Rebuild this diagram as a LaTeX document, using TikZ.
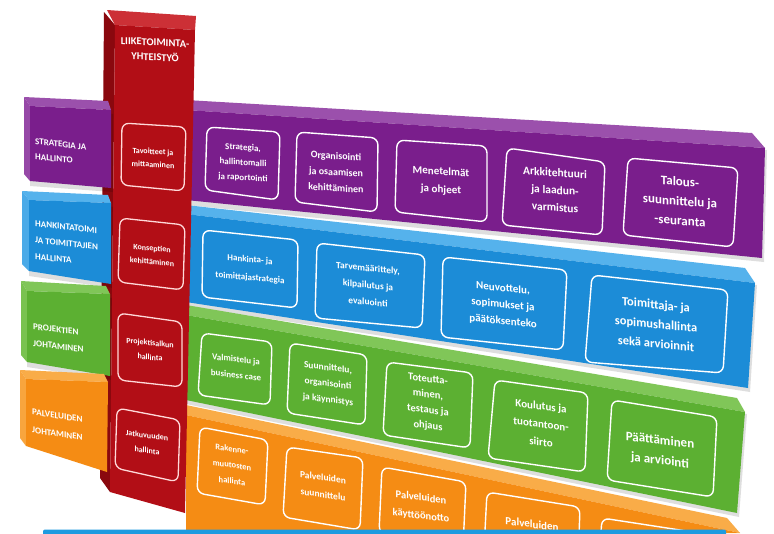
\documentclass[tikz,border=0pt]{standalone}
\usepackage{fontspec}
\setmainfont{Carlito}
\definecolor{pF}{RGB}{122,30,140}
\definecolor{pT}{RGB}{155,80,172}
\definecolor{bF}{RGB}{28,140,215}
\definecolor{bT}{RGB}{85,178,236}
\definecolor{gF}{RGB}{92,176,50}
\definecolor{gT}{RGB}{128,198,88}
\definecolor{oF}{RGB}{245,140,20}
\definecolor{oT}{RGB}{249,172,72}
\definecolor{rF}{RGB}{178,14,22}
\definecolor{rT}{RGB}{204,48,54}
\definecolor{rS}{RGB}{138,8,14}
\definecolor{barB}{RGB}{30,155,224}
\begin{document}
\begin{tikzpicture}[x=1pt,y=-1pt,
  ibox/.style={draw=white, line width=1.4pt, rounded corners=7pt},
  rbox/.style={draw=red!15!white, line width=1.3pt, rounded corners=7pt},
  txt/.style 2 args={text=white, align=center, inner sep=0pt, font=\fontsize{#1}{#2}\selectfont\bfseries},
  ltxt/.style={text=white, align=left, inner sep=0pt, anchor=west, font=\fontsize{9}{15}\selectfont\bfseries},
  shd/.style={fill=black, opacity=0.13}
  ]
\useasboundingbox (0,0) rectangle (774,533);
\clip (0,0) rectangle (774,533);
\fill[white] (0,0) rectangle (774,533);

% ---------- band right parts ----------
% purple
\fill[shd] (186,112) -- (767,150) -- (764,262) -- (186,205) -- cycle;
\fill[pT] (186,100) -- (752,133) -- (765,148) -- (186,110) -- cycle;
\fill[pF] (186,110) -- (765,148) -- (762,258) -- (186,200) -- cycle;
% blue
\fill[shd] (186,216) -- (757,285) -- (750,392) -- (186,306) -- cycle;
\fill[bT] (186,205) -- (745,268) -- (755,283) -- (186,214) -- cycle;
\fill[bF] (186,214) -- (755,283) -- (748,388) -- (186,302) -- cycle;
% green
\fill[shd] (186,317) -- (747,414) -- (739,517) -- (186,404) -- cycle;
\fill[gT] (186,305) -- (737,398) -- (745,412) -- (186,315) -- cycle;
\fill[gF] (186,315) -- (745,412) -- (737,513) -- (186,400) -- cycle;
% orange
\fill[oT] (186,405) -- (727,518) -- (740,533) -- (186,415) -- cycle;
\fill[oF] (186,415) -- (740,533) -- (186,533) -- cycle;

% ---------- purple boxes ----------
\draw[ibox] (207,127) -- (280,132) -- (278,200) -- (205,190) -- cycle;
\draw[ibox] (297,132) -- (378,138) -- (377,212) -- (295,202) -- cycle;
\draw[ibox] (397,140) -- (487,146) -- (487,222) -- (395,212) -- cycle;
\draw[ibox] (507,148) -- (605,162) -- (602,235) -- (502,225) -- cycle;
\draw[ibox] (628,158) -- (738,168) -- (733,247) -- (623,235) -- cycle;
\node[txt={9}{15}, yslant=-0.06] (p1) at (243,163) {Strategia,\\hallintomalli\\ja raportointi};
\node[txt={10}{16}, yslant=-0.06] (p2) at (336,172) {Organisointi\\ja osaamisen\\kehittäminen};
\node[txt={11}{18}, yslant=-0.06] (p3) at (441,181) {Menetelmät\\ja ohjeet};
\node[txt={11.5}{17.5}, yslant=-0.07] (p4) at (555,190) {Arkkitehtuuri\\ja laadun-\\varmistus};
\node[txt={13}{19.5}, yslant=-0.08] (p5) at (680,201) {Talous-\\suunnittelu ja\\-seuranta};

% ---------- blue boxes ----------
\draw[ibox] (203,230) -- (298,240) -- (297,308) -- (202,297) -- cycle;
\draw[ibox] (317,243) -- (425,255) -- (422,328) -- (315,318) -- cycle;
\draw[ibox] (443,257) -- (567,270) -- (563,350) -- (441,337) -- cycle;
\draw[ibox] (592,275) -- (728,290) -- (723,373) -- (585,362) -- cycle;
\node[txt={9}{18}, yslant=-0.09] (b1) at (250,269) {Hankinta- ja\\toimittajastrategia};
\node[txt={9.5}{17}, yslant=-0.1] (b2) at (368,285) {Tarvemäärittely,\\kilpailutus ja\\evaluointi};
\node[txt={11}{16.5}, yslant=-0.1] (b3) at (503,305) {Neuvottelu,\\sopimukset ja\\päätöksenteko};
\node[txt={12.5}{19.5}, yslant=-0.1] (b4) at (656,324) {Toimittaja- ja\\sopimushallinta\\sekä arvioinnit};

% ---------- green boxes ----------
\draw[ibox] (202,333) -- (272,342) -- (270,405) -- (198,395) -- cycle;
\draw[ibox] (290,343) -- (367,355) -- (365,425) -- (287,413) -- cycle;
\draw[ibox] (387,362) -- (473,373) -- (470,448) -- (383,435) -- cycle;
\draw[ibox] (495,380) -- (588,393) -- (585,472) -- (488,458) -- cycle;
\draw[ibox] (612,400) -- (717,417) -- (713,497) -- (607,480) -- cycle;
\node[txt={9}{16}, yslant=-0.11] (g1) at (236,367) {Valmistelu ja\\business case};
\node[txt={9.5}{16}, yslant=-0.12] (g2) at (328,384) {Suunnittelu,\\organisointi\\ja käynnistys};
\node[txt={10.5}{15.5}, yslant=-0.12] (g3) at (428,403) {Toteutta-\\minen,\\testaus ja\\ohjaus};
\node[txt={11}{18}, yslant=-0.12] (g4) at (541,424) {Koulutus ja\\tuotantoon-\\siirto};
\node[txt={13}{20}, yslant=-0.12] (g5) at (660,451) {Päättäminen\\ja arviointi};

% ---------- orange boxes ----------
\draw[ibox] (200,427) -- (268,440) -- (265,505) -- (197,493) -- cycle;
\draw[ibox] (287,447) -- (363,458) -- (360,530) -- (283,517) -- cycle;
\draw[ibox] (382,467) -- (466,482) -- (463,548) -- (379,533) -- cycle;
\draw[ibox] (487,492) -- (580,507) -- (578,565) -- (484,550) -- cycle;
\draw[ibox] (602,518) -- (693,532) -- (690,575) -- (599,560) -- cycle;
\node[txt={8.5}{16}, yslant=-0.14] (o1) at (232,465) {Rakenne-\\muutosten\\hallinta};
\node[txt={9.5}{17}, yslant=-0.14] (o2) at (323,486) {Palveluiden\\suunnittelu};
\node[txt={10.5}{18}, yslant=-0.13] (o3) at (421,507) {Palveluiden\\käyttöönotto};
\node[txt={11}{17}, yslant=-0.13, anchor=north] (o4) at (532,520) {Palveluiden};

% ---------- column side face ----------
\fill[rS] (104,12) -- (115,25) -- (110,492) -- (100,478) -- cycle;

% ---------- left blocks ----------
\fill[shd] (30,110) -- (113,114) -- (113,192) -- (30,186) -- cycle;
\fill[pT] (24,97) -- (108,101) -- (111,110) -- (30,106) -- cycle;
\fill[pT!85!pF] (24,97) -- (30,106) -- (30,181) -- (24,174) -- cycle;
\fill[pF] (30,106) -- (111,110) -- (111,188) -- (30,181) -- cycle;

\fill[shd] (29,204) -- (113,207) -- (113,288) -- (29,276) -- cycle;
\fill[bT] (22,191) -- (108,195) -- (111,203) -- (29,200) -- cycle;
\fill[bT!80!bF] (22,191) -- (29,200) -- (29,271) -- (22,264) -- cycle;
\fill[bF] (29,200) -- (111,203) -- (111,284) -- (29,271) -- cycle;

\fill[shd] (27,295) -- (112,298) -- (112,380) -- (27,367) -- cycle;
\fill[gT] (21,281) -- (106,286) -- (110,294) -- (27,291) -- cycle;
\fill[gT!80!gF] (21,281) -- (27,291) -- (27,362) -- (21,355) -- cycle;
\fill[gF] (27,291) -- (110,294) -- (110,376) -- (27,362) -- cycle;

\fill[oT] (20,370) -- (104,374) -- (108,382) -- (26,379) -- cycle;
\fill[oT!80!oF] (20,370) -- (26,379) -- (26,446) -- (20,438) -- cycle;
\fill[oF] (26,379) -- (108,382) -- (107,472) -- (26,446) -- cycle;

\node[ltxt, yslant=-0.11] (l1) at (35,149) {STRATEGIA JA\\HALLINTO};
\node[ltxt, yslant=-0.11, font=\fontsize{9}{16.5}\selectfont\bfseries] (l2) at (35,240) {HANKINTATOIMI\\JA TOIMITTAJIEN\\HALLINTA};
\node[ltxt, yslant=-0.12, font=\fontsize{9}{16.5}\selectfont\bfseries] (l3) at (33,335) {PROJEKTIEN\\JOHTAMINEN};
\node[ltxt, yslant=-0.15, font=\fontsize{9}{18}\selectfont\bfseries] (l4) at (32,421) {PALVELUIDEN\\JOHTAMINEN};

% ---------- column ----------
\fill[rT] (107,10) -- (196,16) -- (195,30) -- (115,25) -- cycle;
\fill[rF] (115,25) -- (195,30) -- (185,513) -- (110,492) -- cycle;
\node[txt={10.5}{15}, yslant=-0.05] (hdr) at (155,50) {LIIKETOIMINTA-\\YHTEISTYÖ};

\draw[rbox] (122,123) -- (186,127) -- (184,191) -- (121,185) -- cycle;
\draw[rbox] (120,218) -- (185,225) -- (183,290) -- (118,282) -- cycle;
\draw[rbox] (118,313) -- (182,322) -- (182,387) -- (118,380) -- cycle;
\draw[rbox] (117,408) -- (180,420) -- (178,482) -- (115,468) -- cycle;
\node[txt={8}{13}, yslant=-0.06] (r1) at (153,158) {Tavoitteet ja\\mittaaminen};
\node[txt={8}{13.5}, yslant=-0.09] (r2) at (152,255) {Konseptien\\kehittäminen};
\node[txt={8}{14.5}, yslant=-0.1] (r3) at (150,350) {Projektisalkun\\hallinta};
\node[txt={8}{15}, yslant=-0.13] (r4) at (147,443) {Jatkuvuuden\\hallinta};

% ---------- bottom bar ----------
\fill[barB, rounded corners=2pt] (43,529.5) -- (726,529.5) -- (726,545) -- (43,545) -- cycle;
\end{tikzpicture}
\end{document}
